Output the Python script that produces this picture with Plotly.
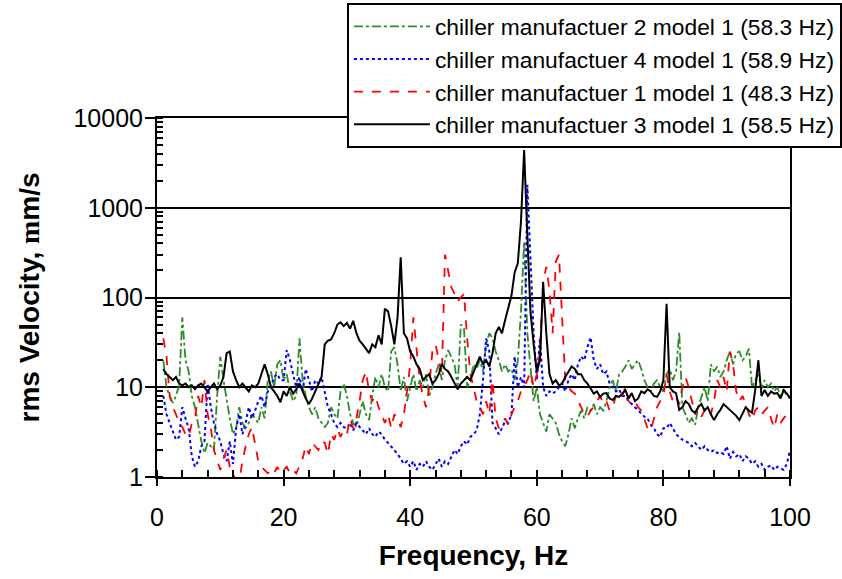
import numpy as np
import plotly.graph_objects as go

# frequency grid (Hz), 1 .. 100 in 0.5 Hz steps
freq = [1 + 0.5 * i for i in range(199)]

# chiller manufactuer 2 model 1 (green, dash-dot)
green = [
    20, 10, 8, 6.7, 8, 10.5, 60, 20, 15, 8,
    6, 4, 2.5, 1.85, 2.4, 2.2, 2, 8, 22, 12,
    7, 4.5, 3, 3.5, 6, 4, 3.5, 4, 5, 4.5,
    4, 6, 4.5, 12, 15, 10, 18, 20, 12, 14,
    9, 7, 8, 35, 12, 8, 6, 5, 6, 4.5,
    4, 3.6, 4, 6, 5, 4.5, 9, 11, 8, 5,
    4, 3.6, 5, 7, 5, 4.3, 8, 13, 10, 14,
    10, 9, 25, 28, 18, 9, 13, 7, 10, 14,
    9, 12, 10, 14, 8, 10, 14, 18, 12, 20,
    26, 22, 18, 10, 50, 45, 10, 12, 18, 16,
    20, 15, 30, 40, 35, 25, 20, 15, 18, 15,
    16, 12, 20, 70, 420, 40, 15, 7, 10, 5,
    4, 3.2, 5, 4.5, 4, 3, 2.5, 2.2, 3, 4.5,
    3.5, 4.5, 5.5, 4.5, 6, 5.5, 6.5, 5, 6, 5.5,
    7, 10, 12, 9, 14, 15, 17, 20, 16, 18,
    20, 16, 12, 10, 9, 11, 12, 10, 9, 14,
    16, 12, 15, 41, 6, 5, 4, 4.5, 3.8, 6,
    8, 10, 7, 18, 15, 17, 13, 15, 20, 25,
    18, 24, 25, 20, 22, 27, 10, 12, 14, 9.5,
    12, 10, 11, 9, 10, 8, 9.5, 8, 7.5,
]

# chiller manufactuer 4 model 1 (blue, dotted)
blue = [
    8, 5, 4, 3.3, 2.6, 2.8, 6, 4.5, 3.5, 1.7,
    1.3, 1.5, 2.2, 2.5, 11, 6, 4, 3, 2.5, 1.8,
    1.5, 2.5, 1.4, 3.5, 5, 3, 4, 6, 4.5, 5.5,
    7, 8, 6, 9, 10, 13, 14, 12, 12, 26,
    20, 14, 10, 13, 9, 16, 12, 9, 12, 11,
    13, 9, 6, 5, 4, 3.6, 4, 3.6, 3.5, 4,
    3.3, 4, 3.6, 3.3, 3, 3.5, 3, 2.8, 3.2, 3,
    2.6, 2.4, 2.2, 2, 1.8, 1.6, 1.4, 1.5, 1.3, 1.5,
    1.2, 1.4, 1.3, 1.5, 1.3, 1.2, 1.4, 1.6, 1.3, 1.5,
    1.4, 1.7, 2, 1.8, 2.2, 2.5, 2.3, 2.8, 3, 3.3,
    5, 12, 35, 25, 4, 3.5, 3, 3.5, 4.2, 4,
    5, 22, 10, 13, 10, 1800, 300, 40, 12, 35,
    10, 8, 9, 8.5, 9, 10, 11, 9, 12, 14,
    12, 18, 22, 20, 28, 36, 20, 16, 18, 14,
    15, 11, 10, 9, 9.5, 8, 8, 7, 6.5, 6,
    5.5, 5, 4.7, 4.5, 3.8, 3.5, 3, 2.8, 3.5, 3.5,
    4, 3.5, 3, 2.8, 2.6, 2.5, 2.4, 2.2, 2.4, 2.2,
    2, 2.2, 2, 1.9, 2, 1.85, 1.9, 1.8, 2.2, 1.6,
    1.9, 1.7, 1.8, 1.5, 1.7, 1.6, 1.4, 1.5, 1.3, 1.4,
    1.2, 1.3, 1.35, 1.2, 1.3, 1.25, 1.2, 1.4, 2,
]

# chiller manufactuer 1 model 1 (red, dashed)
red = [
    35, 22, 8, 6, 5, 4, 3.6, 3, 2.8, 4,
    4.5, 8, 6, 12, 5, 3.5, 2, 1.5, 1.2, 1.6,
    2, 1.3, 1.1, 0.9, 0.9, 1.5, 2.2, 3, 3.6, 2.2,
    1.5, 1.3, 1.2, 1.1, 1.2, 1.1, 1.3, 1.1, 1.2, 1.3,
    1.1, 1.2, 1.1, 1.3, 1.6, 2.2, 1.8, 2.4, 2.2, 2,
    2.5, 2.4, 1.8, 3, 2.6, 3.4, 2.8, 3.3, 3, 4.5,
    3.5, 4.5, 7, 12, 15, 9, 7, 8, 6, 5,
    4, 5, 3.5, 5, 4.5, 3.6, 5, 9, 18, 60,
    25, 12, 8, 6, 10, 25, 30, 20, 14, 300,
    200, 130, 110, 90, 100, 110, 35, 14, 10, 7,
    6, 5, 7, 5, 12, 4.5, 3.5, 4, 4.5, 3.8,
    5, 6, 7, 9, 10, 12, 15, 10, 14, 25,
    150, 220, 120, 40, 250, 300, 60, 12, 10, 9,
    8.5, 7, 6, 5, 4.7, 5.5, 6, 7, 8, 6.5,
    7, 5.5, 6, 8, 9, 8, 10, 7, 6.5, 7,
    6, 5.5, 4.5, 3.5, 3.3, 4.5, 6, 7, 8, 14,
    9, 7, 8, 6.5, 10, 13, 10, 7, 5, 6,
    4.7, 5.5, 6, 5, 7, 12, 10, 13, 9, 25,
    18, 9, 7, 8, 6.5, 5, 4.3, 5.5, 6, 5,
    5.5, 6, 4.5, 3.5, 5, 4, 4.5, 5, 4.5,
]

# chiller manufactuer 3 model 1 (black, solid)
black = [
    16, 14, 13, 12, 13, 11, 10.5, 11, 10, 10.5,
    9.5, 10.5, 11, 10, 9, 10, 11, 9.5, 10.5, 13,
    24, 25, 15, 12, 10, 11, 10, 9, 10.5, 10,
    11, 14, 18, 14, 10, 9, 8, 6.8, 9, 8,
    10, 8.5, 9.5, 11, 9, 7.5, 6.5, 7.5, 9, 11,
    13, 30, 33, 34, 40, 50, 53, 48, 52, 45,
    55, 40, 33, 30, 27, 24, 30, 28, 38, 30,
    75, 70, 48, 30, 60, 280, 40, 35, 25, 22,
    18, 16, 12, 13, 14, 11, 12, 14, 18, 16,
    15, 13, 11, 9.5, 11, 12, 13, 12, 15, 18,
    22, 18, 20, 17, 24, 40, 47, 40, 56, 80,
    105, 190, 240, 700, 4400, 500, 70, 30, 15, 20,
    150, 40, 14, 11, 12, 10.5, 11, 13, 15, 17,
    16, 14, 14, 12, 11, 9.5, 8.5, 9, 7.8, 8.5,
    8.6, 7.5, 7.2, 8, 7.8, 8.5, 9.3, 7.5, 8.6, 7,
    7.5, 9, 8.6, 9.5, 9, 8, 7.8, 9, 12, 85,
    10, 9, 8.6, 5.6, 6, 7, 6.5, 5.5, 5.2, 6,
    6.5, 5.5, 6, 5, 4.3, 5, 5.6, 6.5, 6, 5.5,
    5.2, 4.8, 4.3, 5, 6, 5.5, 5.2, 9.3, 20, 8,
    9.3, 8, 9, 8.5, 8.6, 7.5, 9.3, 8.5, 7.6,
]

names = [
    "chiller manufactuer 2 model 1 (58.3 Hz)",
    "chiller manufactuer 4 model 1 (58.9 Hz)",
    "chiller manufactuer 1 model 1 (48.3 Hz)",
    "chiller manufactuer 3 model 1 (58.5 Hz)",
]
series = [green, blue, red, black]
colors = ["#2E8B2E", "#0000FF", "#FF0000", "#000000"]
dashes = ["dashdot", "dot", "dash", "solid"]
widths = [1.8, 2.0, 1.8, 2.0]

FONT = "Liberation Sans, Arial, sans-serif"

fig = go.Figure()
for i, (nm, ys) in enumerate(zip(names, series)):
    fig.add_trace(go.Scatter(
        x=freq, y=ys, name=nm, mode="lines",
        line=dict(color=colors[i], dash=dashes[i], width=widths[i]),
    ))

fig.update_layout(
    width=842, height=579,
    margin=dict(l=157, r=52, t=118, b=102, autoexpand=False),
    paper_bgcolor="white", plot_bgcolor="white",
    font=dict(family=FONT, color="black", size=25),
    showlegend=True,
    legend=dict(
        x=0.30, y=1.32, xanchor="left", yanchor="top",
        bgcolor="white", bordercolor="black", borderwidth=2,
        font=dict(family=FONT, size=22.8, color="black"),
        itemwidth=76,
    ),
)

fig.update_xaxes(
    range=[0, 100], dtick=20, tick0=0,
    showline=True, linecolor="black", linewidth=2, mirror=True,
    ticks="outside", ticklen=7, tickwidth=2, tickcolor="black",
    minor=dict(dtick=4, ticks="inside", ticklen=7, tickwidth=2, tickcolor="black", showgrid=False),
    showgrid=False, zeroline=False,
    tickfont=dict(family=FONT, size=25),
    ticklabelstandoff=10,
    title=dict(text="<b>Frequency, Hz</b>", font=dict(family=FONT, size=28), standoff=15),
)

fig.update_yaxes(
    type="log", range=[0, 4], dtick=1,
    tickvals=[1, 10, 100, 1000, 10000], ticktext=["1", "10", "100", "1000", "10000"],
    showline=True, linecolor="black", linewidth=2, mirror=True,
    ticks="outside", ticklen=10, tickwidth=2, tickcolor="black",
    minor=dict(dtick="D1", ticks="inside", ticklen=6, tickwidth=1.5, tickcolor="black", showgrid=False),
    showgrid=True, gridcolor="black", gridwidth=1.5,
    zeroline=False,
    tickfont=dict(family=FONT, size=25),
    ticklabelstandoff=-3,
    title=dict(text="<b>rms Velocity, <span style='font-family:Liberation Serif'>m</span>m/s</b>",
               font=dict(family=FONT, size=28), standoff=26),
)

fig.write_html("out.html", config={"displayModeBar": False},
               post_script="document.body.style.margin='0px';")
